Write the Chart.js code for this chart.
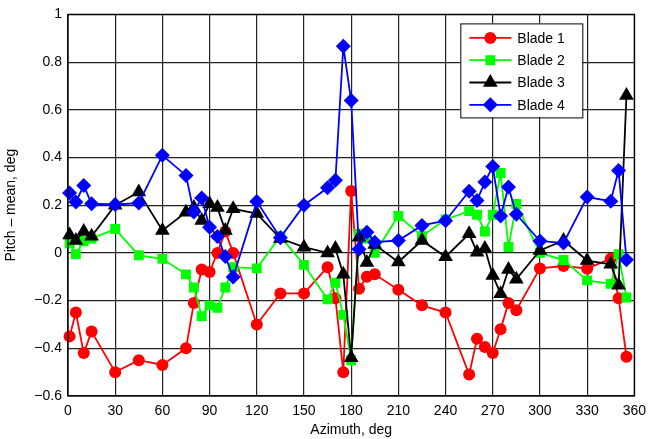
<!DOCTYPE html>
<html>
<head>
<meta charset="utf-8">
<script src="https://cdn.jsdelivr.net/npm/chart.js@4/dist/chart.umd.min.js"></script>
<style>
  html, body { margin: 0; padding: 0; background: #fff; }
  #wrap { width: 653px; height: 439px; position: relative; }
</style>
</head>
<body>
<div id="wrap"><canvas id="pitchChart"></canvas></div>
<script>
const azimuth = [1, 5, 10, 15, 30, 45, 60, 75, 80, 85, 90, 95, 100, 105, 120, 135, 150, 165, 170, 175,
  180, 185, 190, 195, 210, 225, 240, 255, 260, 265, 270, 275, 280, 285, 300, 315, 330, 345, 350, 355];

const blade1 = [-0.35, -0.25, -0.42, -0.33, -0.50, -0.45, -0.47, -0.40, -0.21, -0.07, -0.08, 0.0, 0.09, 0.0,
  -0.30, -0.17, -0.17, -0.06, -0.19, -0.50, 0.26, -0.15, -0.10, -0.09, -0.155, -0.22, -0.25, -0.51, -0.36,
  -0.395, -0.42, -0.32, -0.21, -0.24, -0.065, -0.055, -0.066, -0.024, -0.19, -0.435];

const blade2 = [0.04, -0.005, 0.05, 0.06, 0.10, -0.01, -0.025, -0.09, -0.145, -0.265, -0.22, -0.23, -0.145,
  -0.06, -0.065, 0.07, -0.05, -0.195, -0.125, -0.26, -0.45, 0.08, 0.06, 0.0, 0.155, 0.07, 0.14, 0.175, 0.16,
  0.09, 0.16, 0.335, 0.025, 0.205, 0.0, -0.03, -0.115, -0.13, -0.005, -0.187];

const blade3 = [0.075, 0.052, 0.09, 0.07, 0.20, 0.255, 0.094, 0.17, 0.19, 0.136, 0.206, 0.19, 0.094, 0.185,
  0.165, 0.06, 0.024, 0.0, 0.018, -0.09, -0.44, 0.066, -0.04, 0.035, -0.038, 0.052, -0.016, 0.08, 0.003,
  0.018, -0.095, -0.171, -0.07, -0.11, 0.01, 0.052, -0.032, -0.048, -0.136, 0.66];

const blade4 = [0.251, 0.213, 0.283, 0.206, 0.203, 0.209, 0.409, 0.325, 0.171, 0.23, 0.108, 0.069, -0.015,
  -0.101, 0.215, 0.064, 0.2, 0.273, 0.305, 0.866, 0.639, 0.015, 0.087, 0.045, 0.052, 0.115, 0.135, 0.259,
  0.22, 0.297, 0.362, 0.155, 0.276, 0.162, 0.05, 0.041, 0.234, 0.217, 0.346, -0.029];

const seriesNames = ["Blade 1", "Blade 2", "Blade 3", "Blade 4"];
const seriesColors = ["#ff0000", "#00ff00", "#000000", "#0000ff"];
const seriesMarkers = ["circle", "rect", "triangle", "rectRot"];
const markerSizes = [6, 7, 8.5, 7.5];

const FONT = "'Liberation Sans', Arial, Helvetica, sans-serif";

function toPoints(vals) {
  return vals.map((v, i) => ({ x: azimuth[i], y: v }));
}

const allSeries = [blade1, blade2, blade3, blade4];
const datasets = allSeries.map((vals, i) => ({
  label: seriesNames[i],
  data: toPoints(vals),
  borderColor: seriesColors[i],
  backgroundColor: seriesColors[i],
  borderWidth: 1.8,
  pointStyle: seriesMarkers[i],
  pointRadius: markerSizes[i],
  pointBorderWidth: 0,
  pointBackgroundColor: seriesColors[i],
  tension: 0,
  clip: 12,
  // blade 4 is drawn last (on top), like the original plot
  order: 3 - i,
}));

// legend box inside the plot, top right
const boxLegend = {
  id: "boxLegend",
  afterDraw(chart) {
    const ctx = chart.ctx;
    const area = chart.chartArea;
    const w = 122, h = 94;
    const x0 = area.right - 52 - w;
    const y0 = area.top + 9;
    ctx.save();
    ctx.fillStyle = "#fff";
    ctx.fillRect(x0, y0, w, h);
    ctx.strokeStyle = "#000";
    ctx.lineWidth = 1;
    ctx.strokeRect(x0 + 0.5, y0 + 0.5, w, h);
    ctx.font = "14px " + FONT;
    ctx.textBaseline = "middle";
    for (let i = 0; i < seriesNames.length; i++) {
      const cy = y0 + 14.5 + i * 22.3;
      ctx.strokeStyle = seriesColors[i];
      ctx.lineWidth = 1.8;
      ctx.beginPath();
      ctx.moveTo(x0 + 9, cy);
      ctx.lineTo(x0 + 51, cy);
      ctx.stroke();
      ctx.fillStyle = seriesColors[i];
      Chart.helpers.drawPoint(ctx, {
        pointStyle: seriesMarkers[i],
        radius: markerSizes[i],
        borderWidth: 0,
        rotation: 0,
      }, x0 + 30, cy);
      ctx.fillStyle = "#000";
      ctx.fillText(seriesNames[i], x0 + 57, cy + 1);
    }
    ctx.restore();
  },
};

// frame around the axes
const frame = {
  id: "frame",
  afterDatasetsDraw(chart) {
    const { ctx, chartArea: a } = chart;
    ctx.save();
    ctx.strokeStyle = "#000";
    ctx.lineWidth = 1.3;
    ctx.strokeRect(a.left, a.top, a.right - a.left, a.bottom - a.top);
    ctx.restore();
  },
};

function fmtY(v) {
  const r = Math.round(v * 10) / 10;
  if (r === 0) return "0";
  const s = Math.abs(r).toString();
  return (r < 0 ? "\u2212" : "") + s;
}

new Chart(document.getElementById("pitchChart"), {
  type: "line",
  data: { datasets },
  options: {
    responsive: true,
    maintainAspectRatio: false,
    animation: false,
    layout: { padding: { left: 0, right: 13, top: 14, bottom: 0 } },
    plugins: { legend: { display: false }, tooltip: { enabled: false } },
    scales: {
      x: {
        type: "linear",
        min: 0,
        max: 360,
        afterFit(scale) { scale.height = 43; },
        ticks: {
          stepSize: 30,
          color: "#000",
          padding: 7,
          maxRotation: 0,
          font: { family: FONT, size: 14 },
        },
        grid: { color: "#222", lineWidth: 1.2, drawTicks: false },
        border: { display: false },
        title: {
          display: true,
          text: "Azimuth, deg",
          color: "#000",
          font: { family: FONT, size: 14 },
          padding: { top: 0, bottom: 0 },
        },
      },
      y: {
        min: -0.6,
        max: 1,
        afterFit(scale) { scale.width = 68; },
        ticks: {
          stepSize: 0.2,
          color: "#000",
          padding: 6,
          font: { family: FONT, size: 14 },
          callback: (v) => fmtY(v),
        },
        grid: { color: "#222", lineWidth: 1.2, drawTicks: false },
        border: { display: false },
        title: {
          display: true,
          text: "Pitch \u2013 mean, deg",
          color: "#000",
          font: { family: FONT, size: 14 },
          padding: { top: 3, bottom: 0 },
        },
      },
    },
  },
  plugins: [frame, boxLegend],
});
</script>
</body>
</html>
